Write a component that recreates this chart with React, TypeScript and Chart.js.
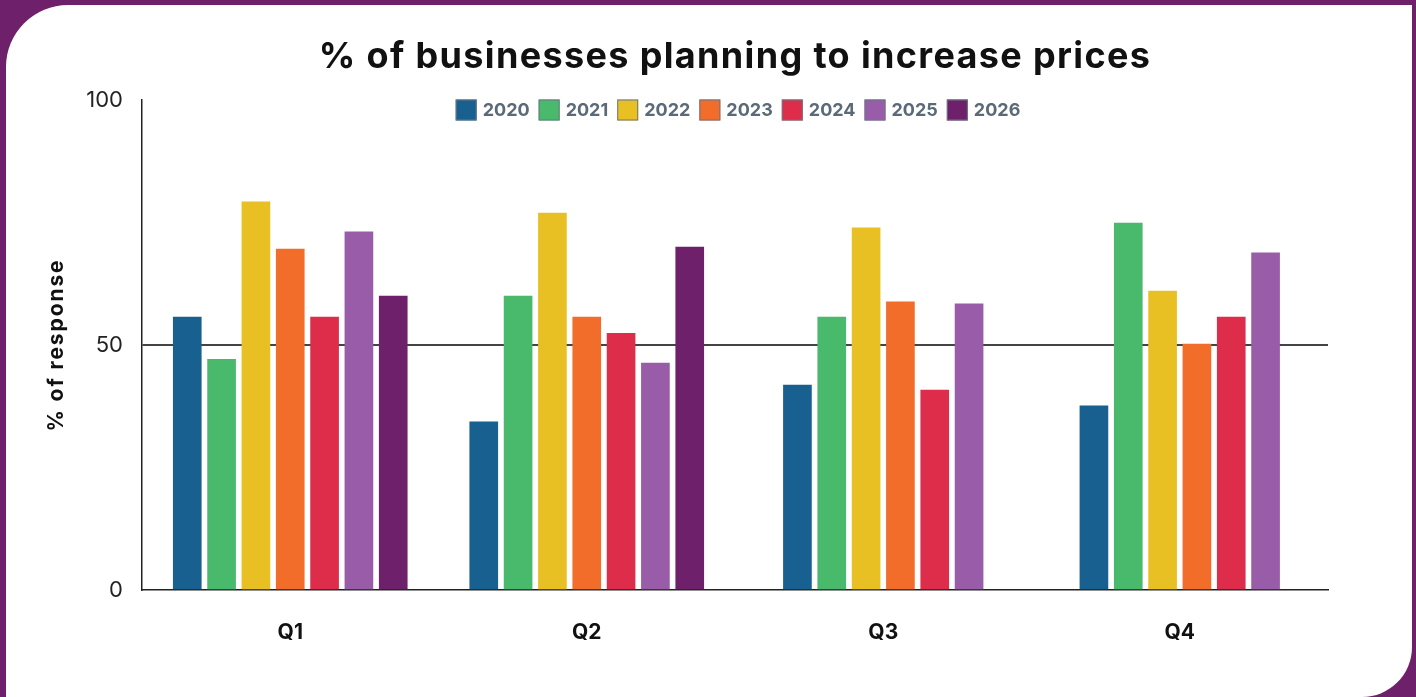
import React, { useEffect, useRef } from "react";
import { Chart, registerables } from "chart.js";

Chart.register(...registerables);

const categories = ["Q1", "Q2", "Q3", "Q4"];
const years = ["2020", "2021", "2022", "2023", "2024", "2025", "2026"];
const v2020 = [55.7, 34.3, 41.8, 37.6];
const v2021 = [47.1, 60, 55.7, 74.9];
const v2022 = [79.2, 76.9, 73.9, 61];
const v2023 = [69.6, 55.7, 58.8, 50.2];
const v2024 = [55.7, 52.4, 40.8, 55.7];
const v2025 = [73.1, 46.3, 58.4, 68.8];
const v2026 = [60, 70, null, null];
const seriesValues = [v2020, v2021, v2022, v2023, v2024, v2025, v2026];
const seriesColors = ["#17608f", "#49b96c", "#e8c024", "#f26c2a", "#dd2d4a", "#995ca8", "#6e206a"];
const yTickValues = [0, 50, 100];
const titleText = "% of businesses planning to increase prices";
const yAxisTitle = "% of response";

const FONT = "Inter, 'Open Sans', sans-serif";
const PURPLE = "#6e206b";

const framePlugin = {
  id: "frameTitleLegend",
  beforeDraw(chart: any) {
    const { ctx, width, height } = chart;
    ctx.save();
    ctx.fillStyle = PURPLE;
    ctx.fillRect(0, 0, width, height);
    ctx.fillStyle = "#ffffff";
    const l = 6, t = 5, r = width - 4, b = height;
    const r1 = 62, r2 = 50;
    ctx.beginPath();
    ctx.moveTo(l + r1, t);
    ctx.lineTo(r, t);
    ctx.lineTo(r, b - r2);
    ctx.arcTo(r, b, r - r2, b, r2);
    ctx.lineTo(l, b);
    ctx.lineTo(l, t + r1);
    ctx.arcTo(l, t, l + r1, t, r1);
    ctx.closePath();
    ctx.fill();
    ctx.restore();
  },
  afterDraw(chart: any) {
    const { ctx, chartArea } = chart;
    const cx = (chartArea.left + chartArea.right) / 2;
    const cy = (chartArea.top + chartArea.bottom) / 2;
    ctx.save();
    // title
    ctx.fillStyle = "#111111";
    ctx.font = `bold 36px ${FONT}`;
    ctx.textAlign = "center";
    ctx.textBaseline = "middle";
    ctx.letterSpacing = "1.35px";
    ctx.fillText(titleText, cx, 57);
    // y-axis title
    ctx.save();
    ctx.translate(57, cy);
    ctx.rotate(-Math.PI / 2);
    ctx.font = `bold 21px ${FONT}`;
    ctx.letterSpacing = "1.9px";
    ctx.fillText(yAxisTitle, 0, 0);
    ctx.restore();
    // legend
    ctx.letterSpacing = "0px";
    ctx.font = `bold 18px ${FONT}`;
    const box = 21, gap = 6, spacing = 9;
    const items = chart.data.datasets.map((d: any) => ({
      label: d.label,
      color: d.backgroundColor,
      w: box + gap + ctx.measureText(d.label).width,
    }));
    const total = items.reduce((s: number, it: any) => s + it.w, 0) + spacing * (items.length - 1);
    let x = cx - total / 2 + 3;
    const yc = 110;
    ctx.textAlign = "left";
    for (const it of items) {
      ctx.fillStyle = it.color;
      ctx.fillRect(x, yc - box / 2, box, box);
      ctx.strokeStyle = "#6b7785";
      ctx.lineWidth = 1;
      ctx.strokeRect(x + 0.5, yc - box / 2 + 0.5, box - 1, box - 1);
      ctx.fillStyle = "#5b6a78";
      ctx.fillText(it.label, x + box + gap, yc + 1);
      x += it.w + spacing;
    }
    ctx.restore();
  },
};

export default function App() {
  const ref = useRef<HTMLCanvasElement | null>(null);
  useEffect(() => {
    document.body.style.margin = "0";
    const canvas = ref.current!;
    const chart = new Chart(canvas, {
      type: "bar",
      data: {
        labels: categories,
        datasets: years.map((y, i) => ({
          label: y,
          data: seriesValues[i],
          backgroundColor: seriesColors[i],
          borderWidth: 0,
          barThickness: 34.33,
          maxBarThickness: 28,
          skipNull: true,
        })),
      },
      options: {
        animation: false,
        responsive: false,
        devicePixelRatio: 1,
        layout: { padding: { left: 0, right: 88, top: 100, bottom: 0 } },
        plugins: {
          legend: { display: false },
          title: { display: false },
          tooltip: { enabled: false },
        },
        scales: {
          x: {
            grid: { display: false, drawTicks: false },
            border: { display: true, color: "#222222", width: 1.5 },
            ticks: {
              color: "#111111",
              font: { family: FONT, size: 21, weight: "bold" },
              padding: 30,
            },
            afterFit(scale: any) {
              scale.height = 107;
            },
          },
          y: {
            min: 0,
            max: 100,
            afterBuildTicks(scale: any) {
              scale.ticks = yTickValues.map((v) => ({ value: v }));
            },
            grid: {
              drawTicks: false,
              color: (c: any) => (c.tick && c.tick.value === 50 ? "#444444" : "rgba(0,0,0,0)"),
              lineWidth: 2,
            },
            border: { display: true, color: "#222222", width: 1.5 },
            ticks: {
              color: "#222222",
              font: { family: FONT, size: 22 },
              padding: 19,
            },
            title: { display: false },
            afterFit(scale: any) {
              scale.width = 142;
            },
          },
        },
      },
      plugins: [framePlugin],
    });
    return () => chart.destroy();
  }, []);
  return (
    <div style={{ position: "fixed", left: 0, top: 0, width: 1416, height: 697 }}>
      <canvas ref={ref} width={1416} height={697} style={{ display: "block" }} />
    </div>
  );
}
